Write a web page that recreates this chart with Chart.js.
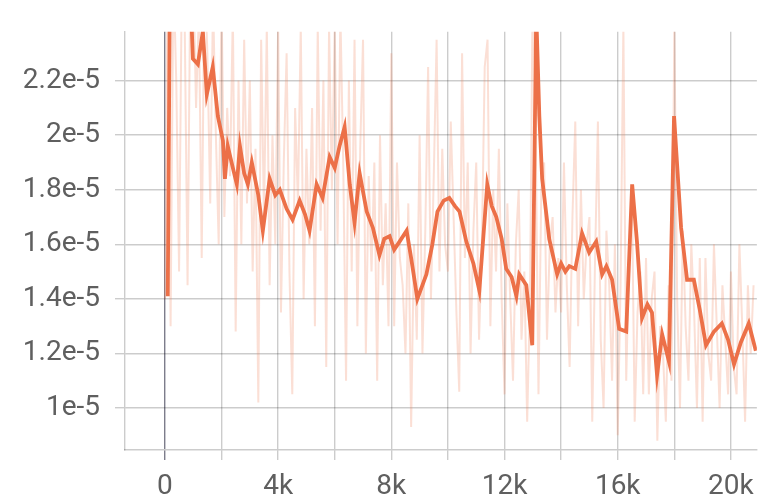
<!DOCTYPE html>
<html>
<head>
<meta charset="utf-8">
<script src="https://cdn.jsdelivr.net/npm/chart.js@4"></script>
<style>
  body { margin: 0; background: #fff; }
  #wrap { width: 764px; height: 502px; }
</style>
</head>
<body>
<div id="wrap"><canvas id="lossChart" width="764" height="502"></canvas></div>
<script>
// values are in units of 1e-5
let smoothSteps = [100, 180, 600, 952, 988, 1164, 1340, 1480, 1690, 1870, 2050, 2120, 2220, 2400, 2540, 2650, 2800, 2930, 3070,
    3300, 3460, 3700, 3900, 4060, 4300, 4510, 4760, 4950, 5110, 5360, 5570, 5820, 6000, 6170, 6350, 6530, 6700, 6880, 7130,
    7350, 7580, 7750, 7940, 8100, 8290, 8540, 8700, 8920, 9240, 9450, 9630, 9850, 10050, 10250, 10410, 10650, 10900, 11110,
    11390, 11550, 11710, 11900, 12060, 12250, 12420, 12520, 12770, 12980, 13120, 13230, 13330, 13580, 13860, 14000, 14150,
    14290, 14500, 14740, 14990, 15240, 15450, 15600, 15800, 16050, 16300, 16510, 16680, 16860, 17050, 17210, 17390, 17570,
    17810, 17990, 18240, 18450, 18690, 18900, 19120, 19400, 19680, 19900, 20110, 20350, 20630, 20880];
let smoothValues = [1.41, 2.6, 2.6, 2.38, 2.28, 2.26, 2.38, 2.15, 2.25, 2.07, 1.98, 1.84, 1.96, 1.88, 1.82, 1.96, 1.86, 1.82, 1.90,
    1.78, 1.65, 1.84, 1.78, 1.80, 1.73, 1.69, 1.76, 1.71, 1.65, 1.82, 1.77, 1.92, 1.88, 1.96, 2.03, 1.82, 1.68, 1.86, 1.72,
    1.66, 1.56, 1.62, 1.63, 1.58, 1.61, 1.65, 1.55, 1.40, 1.49, 1.60, 1.72, 1.76, 1.77, 1.74, 1.72, 1.61, 1.53, 1.43,
    1.82, 1.74, 1.70, 1.62, 1.51, 1.48, 1.41, 1.49, 1.45, 1.23, 2.45, 2.07, 1.84, 1.62, 1.49, 1.53, 1.50,
    1.52, 1.51, 1.64, 1.57, 1.61, 1.49, 1.52, 1.47, 1.29, 1.28, 1.82, 1.61, 1.33, 1.38, 1.35, 1.12, 1.27,
    1.17, 2.07, 1.66, 1.47, 1.47, 1.36, 1.23, 1.28, 1.31, 1.25, 1.16, 1.24, 1.31, 1.21];

let rawSteps = [0, 100, 200, 300, 400, 500, 600, 700, 800, 900,
    1000, 1100, 1200, 1300, 1400, 1500, 1600, 1700, 1800, 1900,
    2000, 2100, 2200, 2300, 2400, 2500, 2600, 2700, 2800, 2900,
    3000, 3100, 3200, 3300, 3400, 3500, 3600, 3700, 3800, 3900,
    4000, 4100, 4200, 4300, 4400, 4500, 4600, 4700, 4800, 4900,
    5000, 5100, 5200, 5300, 5400, 5500, 5600, 5700, 5800, 5900,
    6000, 6100, 6200, 6300, 6400, 6500, 6600, 6700, 6800, 6900,
    7000, 7100, 7200, 7300, 7400, 7500, 7600, 7700, 7800, 7900,
    8000, 8100, 8200, 8300, 8400, 8500, 8600, 8700, 8800, 8900,
    9000, 9100, 9200, 9300, 9400, 9500, 9600, 9700, 9800, 9900,
    10000, 10100, 10200, 10300, 10400, 10500, 10600, 10700, 10800, 10900,
    11000, 11100, 11200, 11300, 11400, 11500, 11600, 11700, 11800, 11900,
    12000, 12100, 12200, 12300, 12400, 12500, 12600, 12700, 12800, 12900,
    13000, 13100, 13200, 13300, 13400, 13500, 13600, 13700, 13800, 13900,
    14000, 14100, 14200, 14300, 14400, 14500, 14600, 14700, 14800, 14900,
    15000, 15100, 15200, 15300, 15400, 15500, 15600, 15700, 15800, 15900,
    16000, 16100, 16200, 16300, 16400, 16500, 16600, 16700, 16800, 16900,
    17000, 17100, 17200, 17300, 17400, 17500, 17600, 17700, 17800, 17900,
    18000, 18100, 18200, 18300, 18400, 18500, 18600, 18700, 18800, 18900,
    19000, 19100, 19200, 19300, 19400, 19500, 19600, 19700, 19800, 19900,
    20000, 20100, 20200, 20300, 20400, 20500, 20600, 20700, 20800];
let rawValues = [1.40, 2.60, 1.30, 2.60, 2.20, 1.50, 2.60, 2.40, 1.45, 2.60,
    2.60, 2.10, 2.45, 1.55, 2.60, 2.30, 1.75, 2.50, 2.00, 1.60,
    2.50, 1.70, 2.10, 1.85, 2.45, 1.28, 2.20, 1.60, 2.35, 1.75,
    2.20, 1.50, 1.95, 1.02, 2.35, 1.70, 2.40, 1.45, 2.00, 1.60,
    2.40, 1.35, 1.90, 2.30, 1.50, 1.05, 2.10, 1.75, 2.40, 1.40,
    1.95, 1.60, 2.10, 1.30, 2.40, 1.65, 2.20, 1.15, 2.40, 1.80,
    2.40, 1.60, 2.45, 1.90, 1.10, 2.20, 1.50, 2.35, 1.30, 1.95,
    2.35, 1.20, 1.85, 1.50, 1.90, 1.10, 2.00, 1.45, 1.75, 1.30,
    2.30, 1.30, 1.90, 1.55, 1.45, 1.20, 1.75, 0.93, 1.60, 1.25,
    2.00, 1.20, 1.65, 2.25, 1.40, 1.85, 2.35, 1.50, 1.95, 1.60,
    1.50, 2.05, 1.70, 1.35, 1.06, 2.30, 1.55, 1.90, 1.20, 1.65,
    1.90, 1.25, 1.60, 2.25, 2.35, 1.30, 1.80, 1.50, 1.95, 1.40,
    1.05, 1.75, 1.40, 1.10, 1.60, 1.80, 1.25, 1.50, 0.95, 1.40,
    2.60, 2.00, 1.05, 1.80, 1.90, 1.25, 1.60, 1.70, 1.35, 1.55,
    1.35, 1.90, 1.45, 1.15, 1.70, 2.05, 1.30, 1.80, 1.40, 1.60,
    1.70, 0.95, 1.55, 2.05, 1.25, 1.00, 1.65, 1.45, 1.10, 1.60,
    0.90, 1.45, 2.40, 1.10, 1.55, 1.80, 0.95, 1.35, 1.50, 1.05,
    1.55, 1.05, 1.40, 1.50, 0.88, 1.30, 1.20, 0.95, 1.45, 1.10,
    2.40, 1.40, 1.00, 1.65, 1.30, 1.10, 1.60, 1.35, 1.00, 1.55,
    0.95, 1.55, 1.20, 1.10, 1.60, 1.30, 1.00, 1.45, 1.25, 1.05,
    1.50, 1.15, 1.05, 1.60, 1.30, 0.95, 1.45, 1.20, 1.45];

let xTickValues = [0, 2000, 4000, 6000, 8000, 10000, 12000, 14000, 16000, 18000, 20000];
let yTickValues = [1.0, 1.2, 1.4, 1.6, 1.8, 2.0, 2.2];

// build point lists for the chart
let smoothPoints = smoothSteps.map((s, i) => ({ x: s, y: smoothValues[i] }));
let rawPoints = rawSteps.map((s, i) => ({ x: s, y: rawValues[i] }));

let gridColor = 'rgba(0,0,0,0.2)';
let tickFont = { family: 'Roboto', size: 28 };

let ctx = document.getElementById('lossChart').getContext('2d');

let lossChart = new Chart(ctx, {
    type: 'line',
    data: {
        datasets: [{
            label: 'smoothed',
            data: smoothPoints,
            borderColor: 'rgb(236,112,72)',
            borderWidth: 3.8,
            pointRadius: 0,
            tension: 0
        }, {
            label: 'raw',
            data: rawPoints,
            borderColor: 'rgba(240,120,80,0.24)',
            borderWidth: 2,
            pointRadius: 0,
            tension: 0
        }]
    },
    options: {
        responsive: false,
        animation: false,
        layout: { padding: { top: 13, right: 6, left: 0, bottom: 0 } },
        plugins: {
            legend: { display: false },
            tooltip: { enabled: false }
        },
        scales: {
            x: {
                type: 'linear',
                min: -1411,
                max: 20917,
                afterFit: function(scale) { scale.height = 52; },
                afterBuildTicks: function(scale) {
                    scale.ticks = xTickValues.map(v => ({ value: v }));
                },
                grid: {
                    color: c => (c.tick && c.tick.value === 0) ? 'rgba(70,70,90,0.7)' : gridColor,
                    lineWidth: 1.4,
                    tickLength: 10
                },
                border: { display: true, color: gridColor, width: 1.4 },
                ticks: {
                    autoSkip: false,
                    maxRotation: 0,
                    padding: 10,
                    color: '#5f5f5f',
                    font: tickFont,
                    callback: function(v) {
                        if (v % 4000 !== 0) return '';
                        return v === 0 ? '0' : (v / 1000) + 'k';
                    }
                }
            },
            y: {
                min: 0.846,
                max: 2.379,
                afterFit: function(scale) { scale.width = 125; },
                afterBuildTicks: function(scale) {
                    scale.ticks = yTickValues.map(v => ({ value: v }));
                },
                grid: { color: gridColor, lineWidth: 1.4, tickLength: 10 },
                border: { display: true, color: gridColor, width: 1.4 },
                ticks: {
                    padding: 15,
                    color: '#5f5f5f',
                    font: tickFont,
                    callback: function(v) {
                        return (+v.toFixed(1)) + 'e-5';
                    }
                }
            }
        }
    }
});
</script>
</body>
</html>
